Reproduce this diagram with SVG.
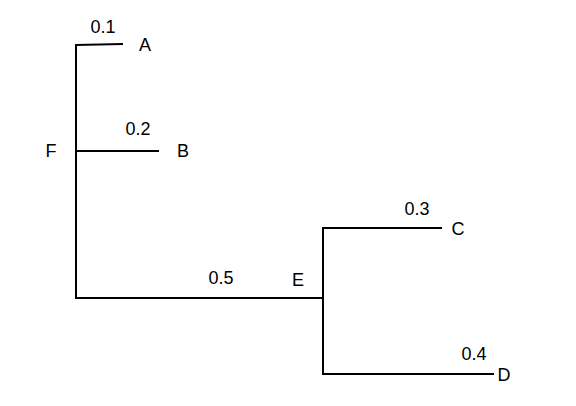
<svg xmlns="http://www.w3.org/2000/svg" width="576" height="406" viewBox="0 0 576 406">
<style>
.e{stroke:#000;stroke-width:2;fill:none;stroke-linecap:square}
text{font-family:"Liberation Sans",Arial,sans-serif;font-size:18px;fill:#000;text-anchor:middle;dominant-baseline:central}
</style>
<rect width="576" height="406" fill="#fff"/>
<g id="connectors">
<path class="e" d="M76,45 L76,298"/>
<path class="e" d="M76,45 L122,44"/>
<path class="e" d="M76,151 L158,151"/>
<path class="e" d="M76,298 L323,298"/>
<path class="e" d="M323,228 L323,374"/>
<path class="e" d="M323,228 L441,228"/>
<path class="e" d="M323,374 L493,374"/>
<text x="103" y="27">0.1</text>
<text x="138" y="129">0.2</text>
<text x="417" y="209">0.3</text>
<text x="474" y="354">0.4</text>
<text x="221" y="278">0.5</text>
</g>
<g id="F"><text x="51" y="151">F</text></g>
<g id="A"><text x="145" y="45">A</text></g>
<g id="B"><text x="183" y="151">B</text></g>
<g id="E"><text x="298" y="280">E</text></g>
<g id="C"><text x="458" y="229">C</text></g>
<g id="D"><text x="504" y="375">D</text></g>
</svg>
